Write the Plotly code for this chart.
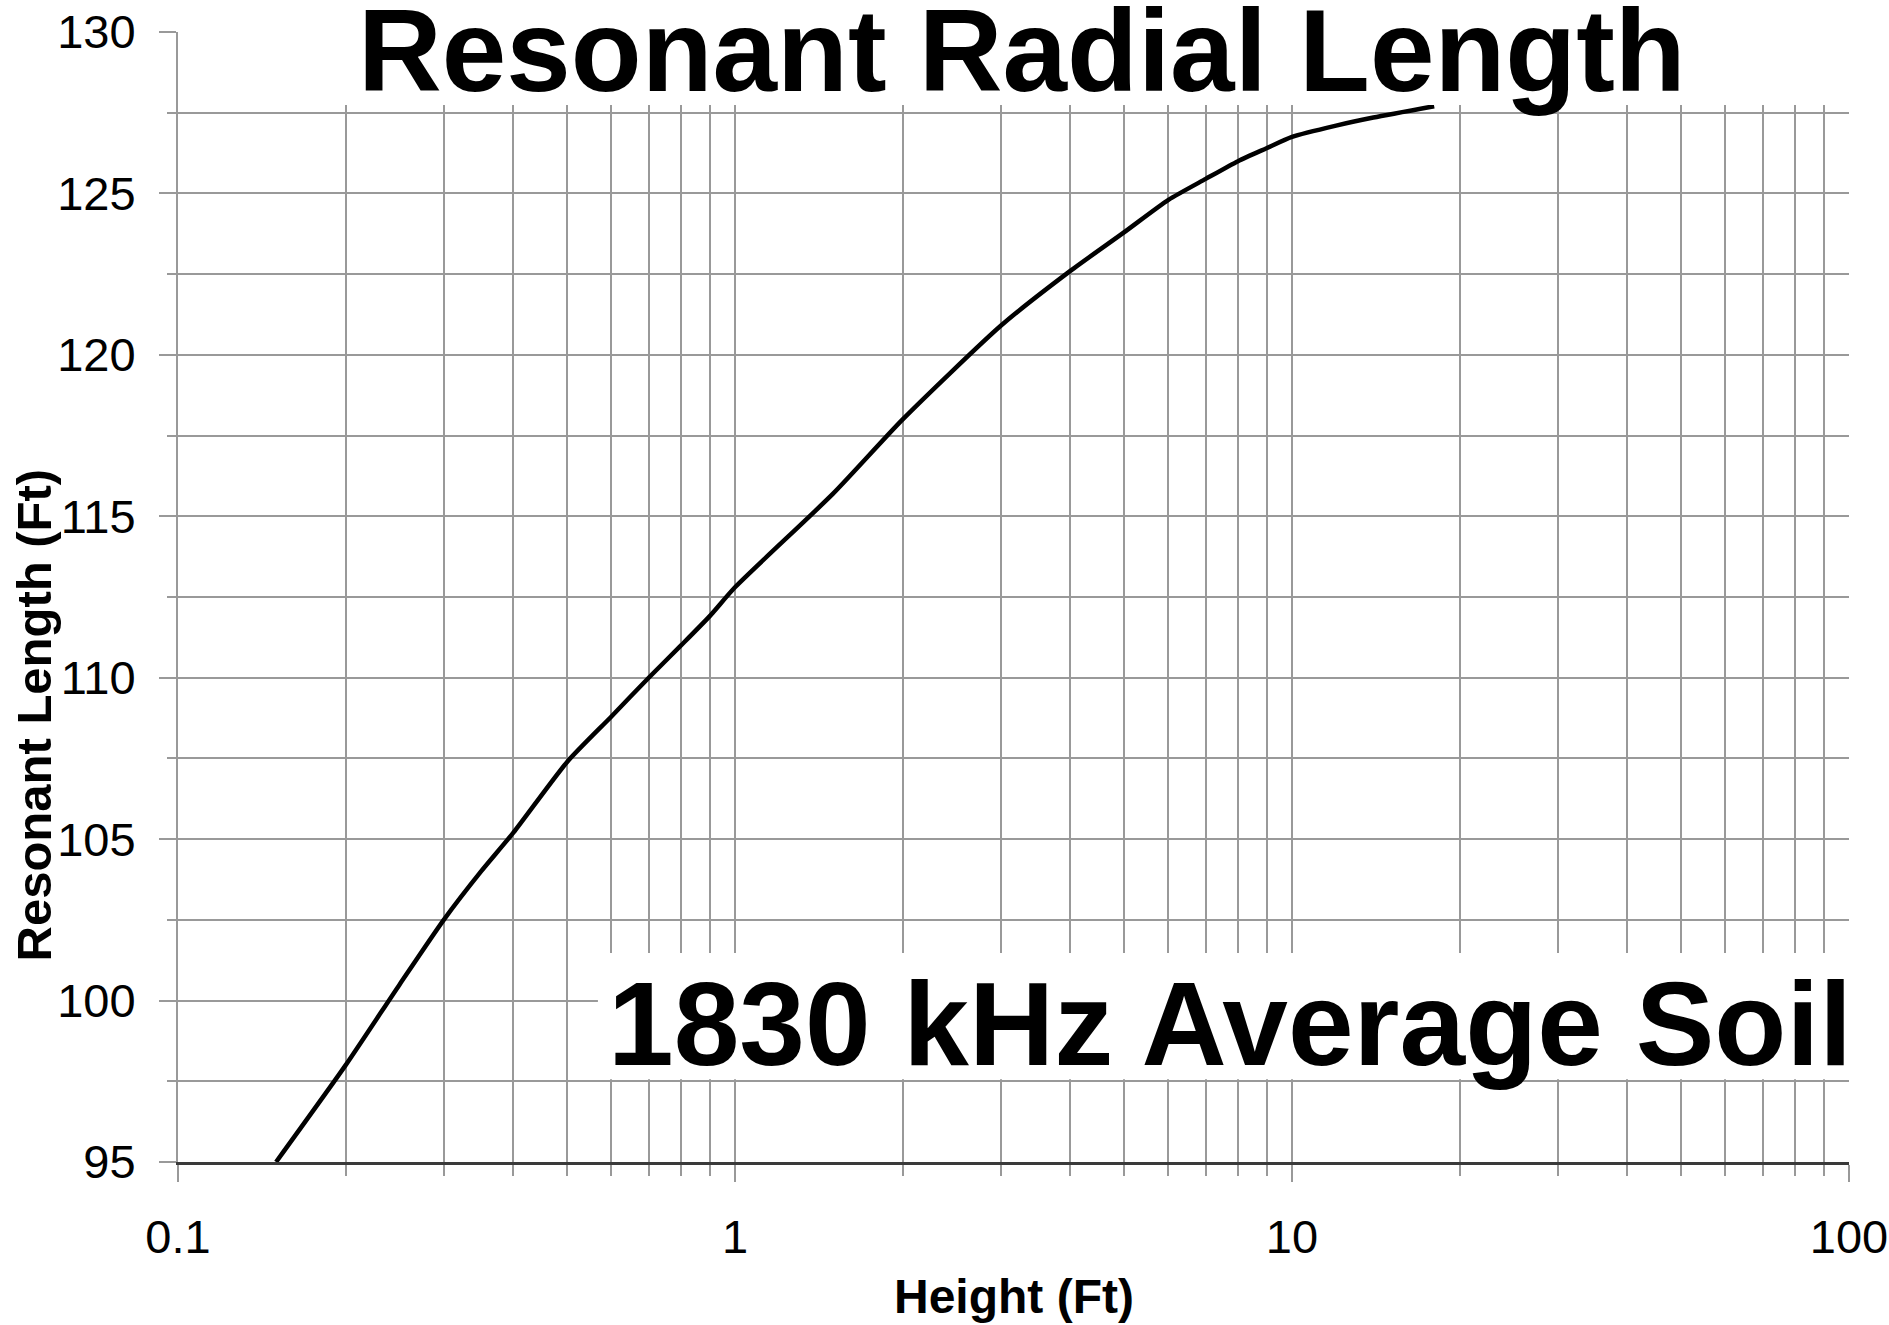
import plotly.graph_objects as go

# ---- data ----
height_ft = [0.15, 0.2, 0.25, 0.3, 0.35, 0.4, 0.5, 0.6, 0.7, 0.8, 0.9, 1.0, 1.5, 2, 3, 4, 5, 6, 7, 8, 9, 10, 12, 14, 18]
resonant_len = [95.0, 98.0, 100.5, 102.5, 104.0, 105.2, 107.4, 108.8, 110.0, 111.0, 111.9, 112.8, 115.7, 118.0, 120.9,
                122.6, 123.8, 124.8, 125.45, 126.0, 126.4, 126.75, 127.1, 127.35, 127.7]

x_major_ticks = [0.1, 1, 10, 100]
x_major_labels = ["0.1", "1", "10", "100"]
x_minor_ticks = [m * d for d in (0.1, 1, 10) for m in (2, 3, 4, 5, 6, 7, 8, 9)]

title_text = "Resonant Radial Length"
note_text = "1830 kHz Average Soil"
x_title = "Height (Ft)"
y_title = "Resonant Length (Ft)"

GRID = "#999999"
FONT = "Liberation Sans, Arial, sans-serif"

fig = go.Figure()
fig.add_trace(go.Scatter(x=height_ft, y=resonant_len, mode="lines", line_shape="spline",
                         line=dict(color="black", width=4.5, smoothing=0.6),
                         showlegend=False, hoverinfo="skip"))

fig.update_layout(
    width=1889, height=1325,
    margin=dict(l=178, r=40, t=32, b=163),
    paper_bgcolor="white", plot_bgcolor="white",
    font=dict(family=FONT, color="black"),
    showlegend=False,
)

fig.update_xaxes(
    type="log", range=[-1, 2], automargin=False,
    tickmode="array", tickvals=x_major_ticks, ticktext=x_major_labels,
    ticks="outside", ticklen=17, tickwidth=2, tickcolor=GRID,
    ticklabelstandoff=15,
    tickfont=dict(family=FONT, size=47, color="black"),
    showgrid=True, gridcolor=GRID, gridwidth=2,
    minor=dict(tickmode="array", tickvals=x_minor_ticks, ticks="outside", ticklen=11,
               tickwidth=2, tickcolor=GRID, showgrid=True, gridcolor=GRID, gridwidth=2),
    showline=True, linecolor="#3a3a3a", linewidth=2.5,
    zeroline=False,
)

fig.update_yaxes(
    range=[95, 130], dtick=5, tick0=95, automargin=False,
    ticks="outside", ticklen=17, tickwidth=2, tickcolor=GRID,
    ticklabelstandoff=14,
    tickfont=dict(family=FONT, size=47, color="black"),
    showgrid=True, gridcolor=GRID, gridwidth=2,
    minor=dict(dtick=2.5, tick0=95, ticks="outside", ticklen=9, tickwidth=2, tickcolor=GRID,
               showgrid=True, gridcolor=GRID, gridwidth=2),
    showline=True, linecolor=GRID, linewidth=2,
    zeroline=False,
)

# white boxes behind the big labels
fig.add_shape(type="rect", xref="paper", yref="y", x0=0.0025, x1=1.002, y0=127.74, y1=130.6,
              fillcolor="white", line=dict(width=0), layer="above")
fig.add_shape(type="rect", xref="paper", yref="y", x0=0.2513, x1=1.012, y0=97.56, y1=101.47,
              fillcolor="white", line=dict(width=0), layer="above")

fig.add_annotation(text=title_text, xref="paper", yref="paper", x=0.5051, y=0.983,
                   xanchor="center", yanchor="middle", showarrow=False,
                   font=dict(family=FONT, size=116, color="black", weight="bold"))
fig.add_annotation(text=note_text, xref="paper", yref="paper", x=0.6296, y=0.1221,
                   xanchor="center", yanchor="middle", showarrow=False,
                   font=dict(family=FONT, size=118, color="black", weight="bold"))
fig.add_annotation(text=x_title, xref="paper", yref="paper", x=0.5003, y=-0.1186,
                   xanchor="center", yanchor="middle", showarrow=False,
                   font=dict(family=FONT, size=48, color="black", weight="bold"))
fig.add_annotation(text=y_title, xref="paper", yref="paper", x=-0.0862, y=0.396,
                   xanchor="center", yanchor="middle", showarrow=False, textangle=-90,
                   font=dict(family=FONT, size=49, color="black", weight="bold"))

fig.write_html("out.html", config={"displayModeBar": False},
               post_script="document.body.style.margin='0';document.body.style.overflow='hidden';")
